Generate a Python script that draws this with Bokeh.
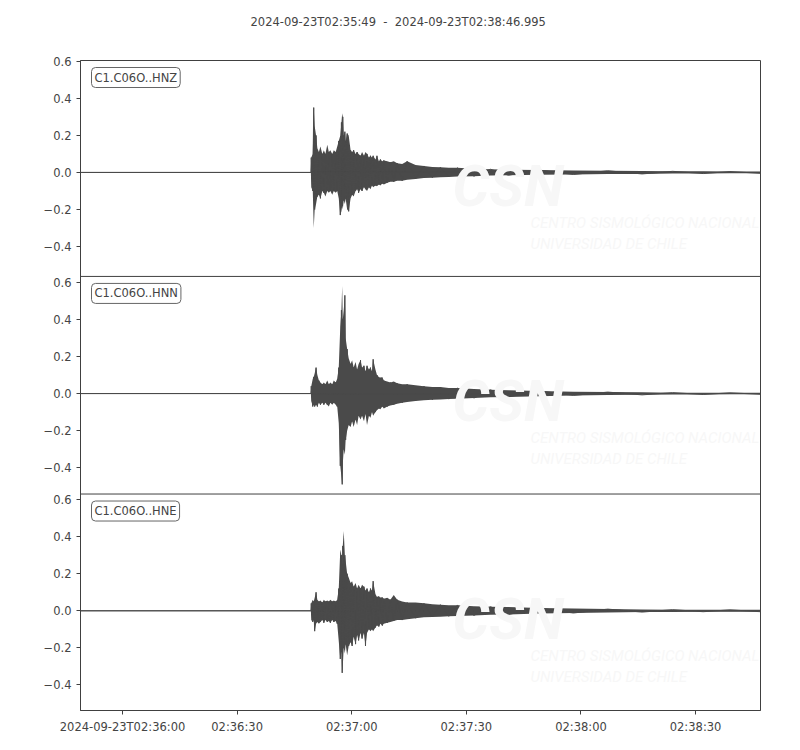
import pandas as pd
from bokeh.plotting import figure
from bokeh.models import Range1d, FixedTicker, Label, Span, Title
from bokeh.embed import file_html
from bokeh.resources import INLINE

# time window of the record
start_time = "2024-09-23 02:35:49"
end_time = "2024-09-23 02:38:46.995"
title_text = "2024-09-23T02:35:49\u00a0\u00a0-\u00a0\u00a02024-09-23T02:38:46.995"

channels = ["C1.C06O..HNZ", "C1.C06O..HNN", "C1.C06O..HNE"]

# seconds after start_time
t_sec = [0, 60.3, 60.4, 60.8, 61.05, 61.3, 61.66, 62.0, 62.4, 62.8,
         63.3, 63.7, 64.1, 64.6, 65.0, 65.4, 65.9, 66.3, 66.8, 67.2, 67.6, 68.0,
         68.3, 68.5, 68.65, 68.9, 69.2, 69.4, 69.8, 70.2, 70.7, 71.1, 71.5, 72.0,
         72.4, 72.8, 73.3, 73.7, 74.2, 74.6, 75.0, 75.5, 75.9, 76.3, 76.6, 77.2,
         77.6, 78.1, 78.5, 79.0, 79.4, 80.3, 81.1, 82.0, 82.9, 84.2, 85.5, 87.7,
         89.9, 92.1, 94.2, 96.4, 98.6, 103, 107.3, 112, 120, 129, 138, 147,
         155, 163, 170, 178]

# upper / lower envelope of each trace
hnz_hi = [0, 0, 0.08, 0.10, 0.35, 0.25, 0.20, 0.13, 0.11, 0.14,
          0.10, 0.12, 0.10, 0.15, 0.11, 0.12, 0.10, 0.12, 0.11, 0.14, 0.17, 0.20,
          0.27, 0.32, 0.30, 0.20, 0.22, 0.17, 0.21, 0.20, 0.12, 0.11, 0.12, 0.10,
          0.11, 0.10, 0.09, 0.11, 0.09, 0.11, 0.10, 0.08, 0.09, 0.08, 0.09, 0.07,
          0.09, 0.06, 0.07, 0.06, 0.065, 0.06, 0.055, 0.06, 0.05, 0.045, 0.06, 0.04,
          0.035, 0.03, 0.028, 0.025, 0.025, 0.02, 0.017, 0.015, 0.013, 0.011, 0.009, 0.008,
          0.006, 0.006, 0.005, 0.005]
hnz_lo = [0, 0, -0.08, -0.10, -0.30, -0.20, -0.17, -0.13, -0.12, -0.14,
          -0.10, -0.11, -0.13, -0.10, -0.11, -0.10, -0.12, -0.10, -0.11, -0.10, -0.14, -0.23,
          -0.21, -0.18, -0.20, -0.15, -0.17, -0.14, -0.20, -0.21, -0.14, -0.12, -0.13, -0.10,
          -0.09, -0.11, -0.09, -0.10, -0.08, -0.09, -0.10, -0.08, -0.09, -0.07, -0.08, -0.07,
          -0.075, -0.065, -0.07, -0.06, -0.065, -0.055, -0.05, -0.05, -0.045, -0.045, -0.04, -0.035,
          -0.03, -0.028, -0.026, -0.024, -0.022, -0.02, -0.017, -0.015, -0.013, -0.011, -0.009, -0.008,
          -0.006, -0.006, -0.005, -0.005]

hnn_hi = [0, 0, 0.04, 0.08, 0.09, 0.11, 0.14, 0.10, 0.07, 0.06,
          0.05, 0.06, 0.05, 0.07, 0.05, 0.06, 0.05, 0.07, 0.06, 0.08, 0.14, 0.36,
          0.45, 0.58, 0.40, 0.45, 0.53, 0.30, 0.24, 0.19, 0.16, 0.18, 0.14, 0.17,
          0.13, 0.16, 0.18, 0.14, 0.15, 0.12, 0.15, 0.13, 0.14, 0.12, 0.185, 0.13,
          0.10, 0.09, 0.085, 0.09, 0.07, 0.065, 0.06, 0.065, 0.055, 0.05, 0.05, 0.045,
          0.04, 0.035, 0.035, 0.03, 0.03, 0.025, 0.02, 0.018, 0.014, 0.01, 0.008, 0.007,
          0.005, 0.005, 0.004, 0.004]
hnn_lo = [0, 0, -0.04, -0.07, -0.06, -0.07, -0.06, -0.07, -0.05, -0.06,
          -0.05, -0.06, -0.05, -0.06, -0.07, -0.05, -0.06, -0.05, -0.06, -0.07, -0.16, -0.39,
          -0.45, -0.49, -0.38, -0.30, -0.33, -0.25, -0.20, -0.17, -0.18, -0.15, -0.18, -0.14,
          -0.17, -0.12, -0.14, -0.12, -0.15, -0.11, -0.17, -0.12, -0.13, -0.10, -0.12, -0.10,
          -0.09, -0.08, -0.085, -0.07, -0.08, -0.07, -0.065, -0.06, -0.055, -0.05, -0.045, -0.04,
          -0.036, -0.034, -0.032, -0.03, -0.028, -0.024, -0.02, -0.018, -0.014, -0.01, -0.008, -0.007,
          -0.005, -0.005, -0.004, -0.004]

hne_hi = [0, 0, 0.04, 0.06, 0.05, 0.07, 0.10, 0.06, 0.05, 0.055,
          0.045, 0.06, 0.05, 0.055, 0.05, 0.06, 0.05, 0.055, 0.05, 0.06, 0.12, 0.33,
          0.30, 0.25, 0.35, 0.43, 0.30, 0.27, 0.20, 0.18, 0.15, 0.16, 0.13, 0.15,
          0.12, 0.14, 0.12, 0.14, 0.13, 0.11, 0.12, 0.10, 0.12, 0.11, 0.16, 0.09,
          0.075, 0.08, 0.07, 0.075, 0.065, 0.07, 0.06, 0.085, 0.06, 0.05, 0.045, 0.045,
          0.04, 0.035, 0.033, 0.03, 0.03, 0.025, 0.022, 0.02, 0.015, 0.012, 0.009, 0.007,
          0.006, 0.005, 0.005, 0.005]
hne_lo = [0, 0, -0.05, -0.06, -0.05, -0.11, -0.07, -0.06, -0.07, -0.06,
          -0.05, -0.065, -0.05, -0.06, -0.055, -0.065, -0.05, -0.06, -0.055, -0.07, -0.165, -0.26,
          -0.22, -0.335, -0.30, -0.20, -0.23, -0.18, -0.24, -0.19, -0.17, -0.19, -0.14, -0.18,
          -0.13, -0.16, -0.12, -0.15, -0.12, -0.19, -0.12, -0.10, -0.11, -0.10, -0.11, -0.09,
          -0.08, -0.085, -0.07, -0.08, -0.07, -0.065, -0.06, -0.055, -0.05, -0.05, -0.045, -0.04,
          -0.035, -0.033, -0.032, -0.03, -0.028, -0.025, -0.022, -0.02, -0.015, -0.012, -0.009, -0.007,
          -0.006, -0.005, -0.005, -0.005]

# value limits of each panel, top to bottom
y_limits = [(-0.561, 0.604), (-0.542, 0.632), (-0.538, 0.630)]
y_ticks = [-0.4, -0.2, 0.0, 0.2, 0.4, 0.6]
y_tick_labels = ["\u22120.4", "\u22120.2", "0.0", "0.2", "0.4", "0.6"]

x_ticks = ["2024-09-23 02:36:00", "2024-09-23 02:36:30", "2024-09-23 02:37:00",
           "2024-09-23 02:37:30", "2024-09-23 02:38:00", "2024-09-23 02:38:30"]
x_tick_labels = ["2024-09-23T02:36:00", "02:36:30", "02:37:00",
                 "02:37:30", "02:38:00", "02:38:30"]

FONT = "DejaVu Sans"
TXT = "#444444"
INK = "#4a4a4a"
EDGE = "#404040"
MARK = "#f7f7f7"

t0 = pd.Timestamp(start_time)
times = t0 + pd.to_timedelta(t_sec, unit="s")
t0_ms = t0.value / 1e6
x_tick_ms = [pd.Timestamp(t).value / 1e6 for t in x_ticks]

traces = [(hnz_hi, hnz_lo), (hnn_hi, hnn_lo), (hne_hi, hne_lo)]

# stack the three panels on one y scale, bottom panel first
spans = [hi - lo for lo, hi in y_limits]
bases = [sum(spans[k + 1:]) for k in range(3)]
total = sum(spans)

p = figure(width=792, height=742, x_axis_type="datetime",
           x_range=Range1d(start=t0, end=pd.Timestamp(end_time)),
           y_range=Range1d(0, total),
           toolbar_location=None, output_backend="svg",
           min_border_left=80, min_border_right=32,
           min_border_top=60, min_border_bottom=32)
p.grid.visible = False
p.outline_line_color = EDGE
p.outline_line_width = 1

tick_pos, tick_txt = [], []
for k, (name, (hi, lo), (ylo, yhi)) in enumerate(zip(channels, traces, y_limits)):
    shift = bases[k] - ylo
    top = bases[k] + spans[k]

    # watermark
    p.add_layout(Label(x=t0_ms, y=top, x_offset=372, y_offset=-125, text="CSN",
                       text_font="Roboto", text_font_size="58px", text_font_style="bold italic",
                       text_color=MARK, text_baseline="middle"))
    p.add_layout(Label(x=t0_ms, y=top, x_offset=450, y_offset=-162,
                       text="CENTRO SISMOLÓGICO NACIONAL", text_font="Roboto",
                       text_font_size="15px", text_font_style="italic",
                       text_color=MARK, text_baseline="middle"))
    p.add_layout(Label(x=t0_ms, y=top, x_offset=450, y_offset=-183,
                       text="UNIVERSIDAD DE CHILE", text_font="Roboto",
                       text_font_size="15px", text_font_style="italic",
                       text_color=MARK, text_baseline="middle"))

    # trace: filled envelope plus zigzag through peaks
    y_hi = [v + shift for v in hi]
    y_lo = [v + shift for v in lo]
    p.varea(x=times, y1=y_lo, y2=y_hi, fill_color=INK)
    zig = [h if j % 2 == 0 else l for j, (h, l) in enumerate(zip(y_hi, y_lo))]
    p.line(times, zig, line_color=INK, line_width=1)
    p.line(times, [shift] * len(times), line_color=INK, line_width=1)

    p.add_layout(Label(x=t0_ms, y=top, x_offset=11, y_offset=-7, text=name,
                       text_font=FONT, text_font_size="11.5px", text_color=TXT,
                       text_baseline="top", text_align="left",
                       background_fill_color="white", border_line_color="#666666",
                       border_line_width=1, padding=3, border_radius=4))

    if k > 0:
        p.add_layout(Span(location=top, dimension="width",
                          line_color=EDGE, line_width=1))

    for v, s in zip(y_ticks, y_tick_labels):
        tick_pos.append(v + shift)
        tick_txt.append(s)

# spacer so that the title sits high above the frame, then the title itself
p.add_layout(Title(text=" ", text_font_size="1px", standoff=29), "above")
p.add_layout(Title(text=title_text, align="left", offset=170, standoff=0,
                   text_font=FONT, text_font_size="11.5px",
                   text_font_style="normal", text_color=TXT), "above")

p.yaxis.ticker = FixedTicker(ticks=tick_pos)
p.yaxis.major_label_overrides = dict(zip(tick_pos, tick_txt))
p.xaxis.ticker = FixedTicker(ticks=x_tick_ms)
p.xaxis.major_label_overrides = dict(zip(x_tick_ms, x_tick_labels))

for ax in (p.xaxis, p.yaxis):
    ax.minor_tick_line_color = None
    ax.major_tick_in = 0
    ax.major_tick_out = 4
    ax.major_label_standoff = 5
    ax.axis_line_color = EDGE
    ax.major_tick_line_color = EDGE
    ax.major_label_text_font = FONT
    ax.major_label_text_font_size = "11.5px"
    ax.major_label_text_color = TXT

open("out.html", "w").write(file_html(p, INLINE))
